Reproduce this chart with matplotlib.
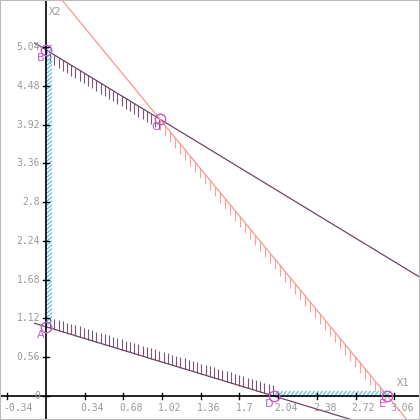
import numpy as np
import matplotlib
matplotlib.use("Agg")
from matplotlib import pyplot as plt
from matplotlib.collections import LineCollection
from matplotlib.patches import Rectangle

# constraints a*x1 + b*x2 = c
coef_a = [1, 2, 1]
coef_b = [1, 1, 2]
coef_c = [5, 6, 2]
line_colors = ['#6e4566', '#ff9590', '#6e4566']
hatch_from = [0, 1, 0]   # x1 range where the boundary is hatched
hatch_to = [1, 3, 2.02]
hatch_dir = [-1, -1, 1]  # -1 below the line, +1 above
hatch_step = [4.2, 5, 4.2]  # px

# vertices of the feasible region
vert_names = ['A', 'B', 'C', 'D', 'E']
vert_x = [0, 0, 1, 2, 3]
vert_y = [1, 5, 4, 0, 0]

# non-negativity boundaries (hatched in light blue)
axis_y_from, axis_y_to = 1, 5
axis_x_from, axis_x_to = 2, 3

x_ticks = [-0.34, 0.34, 0.68, 1.02, 1.36, 1.7, 2.04, 2.38, 2.72, 3.06]
y_ticks = [0, 0.56, 1.12, 1.68, 2.24, 2.8, 3.36, 3.92, 4.48, 5.04]

xmin, xmax = -0.404, 3.286
ymin, ymax = -0.347, 5.72

fig = plt.figure(figsize=(4.2, 4.2), dpi=100)
ax = fig.add_axes([0, 0, 1, 1])
ax.set_xlim(xmin, xmax)
ax.set_ylim(ymin, ymax)

# pixel -> data scale
px_x = (xmax - xmin) / 420.0
px_y = (ymax - ymin) / 420.0

ax.axhline(0, color='black', lw=1.2, zorder=3)
ax.axvline(0, color='black', lw=1.2, zorder=3)
for s in ax.spines.values():
    s.set_visible(False)
ax.set_xticks([])
ax.set_yticks([])

grey = '#999999'
# tick marks and labels by hand along the axes
for t in x_ticks:
    ax.plot([t, t], [-3 * px_y, 3 * px_y], color='black', lw=1, zorder=3)
    ax.text(t - 4 * px_x, -7 * px_y, '%g' % t, ha='left', va='top', color=grey,
            family='DejaVu Sans Mono', fontsize=7)
for t in y_ticks:
    ax.plot([-3 * px_x, 3 * px_x], [t, t], color='black', lw=1, zorder=3)
    ax.text(-6 * px_x, t, '%g' % t, ha='right', va='center', color=grey,
            family='DejaVu Sans Mono', fontsize=7)

ax.text(3.08, 0.12, 'X1', color=grey, family='DejaVu Sans Mono', fontsize=7.5,
        ha='left', va='bottom')
ax.text(0.03, 5.47, 'X2', color=grey, family='DejaVu Sans Mono', fontsize=7.5,
        ha='left', va='bottom')

xs = np.array([-0.1, 3.6])
for a, b, c, col, h0, h1, hd, st in zip(coef_a, coef_b, coef_c, line_colors,
                                       hatch_from, hatch_to, hatch_dir, hatch_step):
    ax.plot(xs, (c - a * xs) / b, color=col, lw=0.9, zorder=2)
    hx = np.arange(h0, h1, st * px_x)
    hy = (c - a * hx) / b
    segs = [[(x, y), (x, y + hd * 10.5 * px_y)] for x, y in zip(hx, hy)]
    ax.add_collection(LineCollection(segs, colors=col, lw=0.8, alpha=0.9, zorder=2))

# light blue hatching on the axes
blue = '#5fc3e6'
hy = np.arange(axis_y_from, axis_y_to, 4 * px_y)
segs = [[(-1 * px_x, y), (6 * px_x, y + 6 * px_y)] for y in hy]
ax.add_collection(LineCollection(segs, colors=blue, lw=0.9, zorder=2))
hx = np.arange(axis_x_from, axis_x_to, 4 * px_x)
segs = [[(x, -1 * px_y), (x + 5 * px_x, 5 * px_y)] for x in hx]
ax.add_collection(LineCollection(segs, colors=blue, lw=0.9, zorder=2))

ax.plot(vert_x, vert_y, 'o', mfc='none', mec='#c858c8', ms=7.5, mew=1, zorder=4)
for n, x, y in zip(vert_names, vert_x, vert_y):
    ax.annotate(n, (x, y), xytext=(-3.5, -6), textcoords='offset points',
                ha='center', va='center', color='#c858c8', fontsize=8, zorder=4)

fig.patches.append(Rectangle((0, 0), 1, 1, transform=fig.transFigure, fill=False,
                             edgecolor='#bbbbbb', lw=1.5))

fig.savefig('out.png', dpi=100)
